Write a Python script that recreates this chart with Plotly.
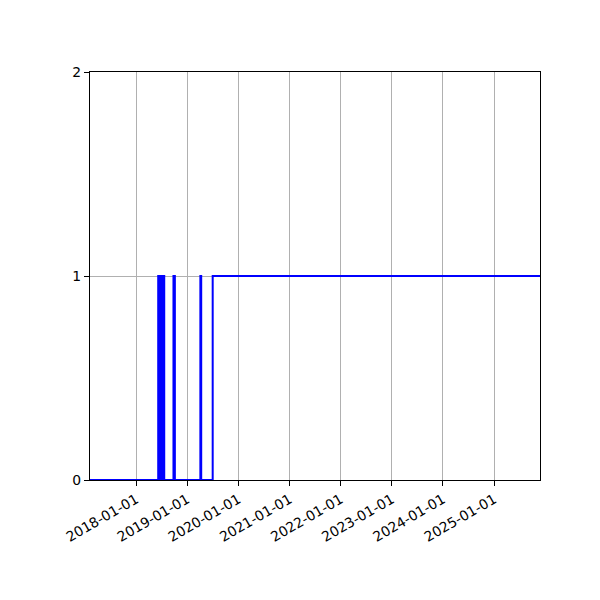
import plotly.graph_objects as go

# change points (step after each date)
dates = [
    "2017-02-06",
    "2018-06-08", "2018-06-11", "2018-06-13", "2018-06-17", "2018-06-19",
    "2018-06-24", "2018-06-26", "2018-07-01", "2018-07-03", "2018-07-08",
    "2018-07-10", "2018-07-14", "2018-07-16", "2018-07-21",
    "2018-09-25", "2018-10-05",
    "2019-04-05", "2019-04-11",
    "2019-07-02",
    "2025-11-24",
]
values = [
    0,
    1, 0, 1, 0, 1,
    0, 1, 0, 1, 0,
    1, 0, 1, 0,
    1, 0,
    1, 0,
    1,
    1,
]

x_range = ["2017-02-06", "2025-11-24"]
y_ticks = [0, 1, 2]

fig = go.Figure()
fig.add_trace(go.Scatter(
    x=dates, y=values, mode="lines", line_shape="hv",
    line=dict(color="#0000ff", width=2), showlegend=False,
))

font = dict(family="DejaVu Sans", size=13.9, color="black")
fig.update_layout(
    width=600, height=600,
    margin=dict(l=82, r=68, t=64, b=128),
    plot_bgcolor="white", paper_bgcolor="white",
    font=font,
)
fig.update_xaxes(
    type="date", range=x_range, tick0="2018-01-01", dtick="M12",
    tickformat="%Y-%m-%d", tickangle=-30,
    showgrid=True, gridcolor="#b0b0b0", gridwidth=1,
    showline=True, linecolor="black", linewidth=1.1, mirror=True,
    ticks="outside", ticklen=5, tickwidth=1.1, tickcolor="black",
    zeroline=False,
)
fig.update_yaxes(
    range=[0, 2], tickvals=y_ticks,
    showgrid=True, gridcolor="#b0b0b0", gridwidth=1,
    showline=True, linecolor="black", linewidth=1.1, mirror=True,
    ticks="outside", ticklen=5, tickwidth=1.1, tickcolor="black",
    zeroline=False,
)
fig.write_html("out.html")
